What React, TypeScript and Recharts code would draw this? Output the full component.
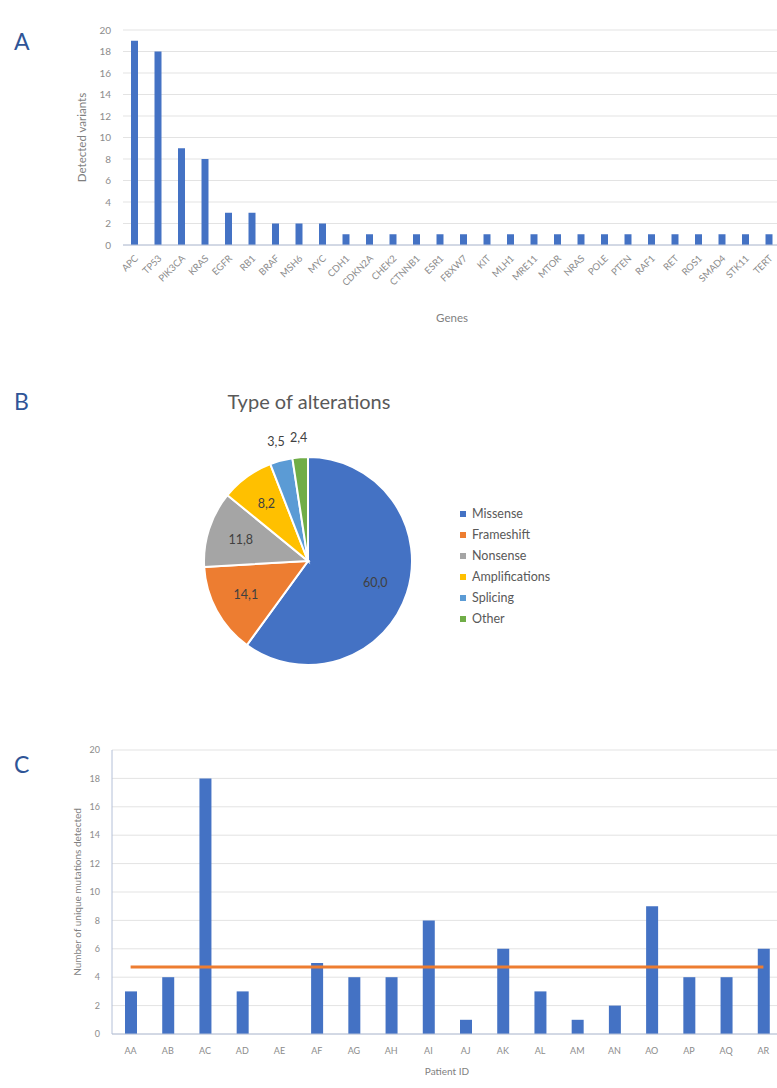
import React from "react";
import {
  BarChart,
  Bar,
  XAxis,
  YAxis,
  CartesianGrid,
  PieChart,
  Pie,
  Cell,
  Legend,
  ComposedChart,
  Line,
} from "recharts";

// Panel A — detected variants per gene
const genes = [
  "APC", "TP53", "PIK3CA", "KRAS", "EGFR", "RB1", "BRAF", "MSH6", "MYC",
  "CDH1", "CDKN2A", "CHEK2", "CTNNB1", "ESR1", "FBXW7", "KIT", "MLH1",
  "MRE11", "MTOR", "NRAS", "POLE", "PTEN", "RAF1", "RET", "ROS1", "SMAD4",
  "STK11", "TERT",
];
const variantCounts = [
  19, 18, 9, 8, 3, 3, 2, 2, 2,
  1, 1, 1, 1, 1, 1, 1, 1,
  1, 1, 1, 1, 1, 1, 1, 1, 1,
  1, 1,
];
const geneTicks = [0, 2, 4, 6, 8, 10, 12, 14, 16, 18, 20];

// Panel B — type of alterations (%)
const alterationTypes = ["Missense", "Frameshift", "Nonsense", "Amplifications", "Splicing", "Other"];
const alterationPct = [60.0, 14.1, 11.8, 8.2, 3.5, 2.4];
const alterationColors = ["#4472C4", "#ED7D31", "#A5A5A5", "#FFC000", "#5B9BD5", "#70AD47"];

// Panel C — unique mutations per patient
const patients = ["AA", "AB", "AC", "AD", "AE", "AF", "AG", "AH", "AI", "AJ", "AK", "AL", "AM", "AN", "AO", "AP", "AQ", "AR"];
const mutationCounts = [3, 4, 18, 3, 0, 5, 4, 4, 8, 1, 6, 3, 1, 2, 9, 4, 4, 6];
const meanMutations = 4.72;
const patientTicks = [0, 2, 4, 6, 8, 10, 12, 14, 16, 18, 20];

const FONT = "Lato, 'Open Sans', sans-serif";
const BLUE = "#4472C4";
const GRID = "#E3E3E3";
const AXIS = "#B4C0D8";
const TICK = "#8C8C8C";

const geneData = genes.map((g, i) => ({ gene: g, count: variantCounts[i] }));
const pieData = alterationTypes.map((n, i) => ({ name: n, value: alterationPct[i] }));
const patientData = patients.map((p, i) => ({ id: p, count: mutationCounts[i], mean: meanMutations }));

const RADIAN = Math.PI / 180;

const RotatedTick = (props: any) => {
  const { x, y, payload } = props;
  return (
    <text
      x={x + 4}
      y={y + 6}
      textAnchor="end"
      fontSize={9.5}
      fill={TICK}
      fontFamily={FONT}
      transform={`rotate(-45, ${x + 4}, ${y + 6})`}
    >
      {payload.value}
    </text>
  );
};

const pieLabel = (props: any) => {
  const { cx, cy, midAngle, outerRadius, value } = props;
  const outside = value < 5;
  const r = outside ? outerRadius + 20 : outerRadius * 0.68;
  const x = cx + r * Math.cos(-midAngle * RADIAN);
  const y = cy + r * Math.sin(-midAngle * RADIAN);
  return (
    <text
      x={x}
      y={y}
      textAnchor="middle"
      dominantBaseline="central"
      fontSize={12.5}
      fill="#404040"
      fontFamily={FONT}
    >
      {value.toFixed(1).replace(".", ",")}
    </text>
  );
};

// legend kept in the original series order (recharts sorts by name otherwise)
const AlterationLegend = () => (
  <ul style={{ listStyle: "none", margin: 0, padding: 0 }}>
    {alterationTypes.map((name, i) => (
      <li key={name} style={{ height: 21, lineHeight: "21px", whiteSpace: "nowrap" }}>
        <span
          style={{
            display: "inline-block",
            width: 6,
            height: 6,
            background: alterationColors[i],
            marginRight: 6,
            verticalAlign: "middle",
          }}
        />
        <span style={{ color: "#595959", verticalAlign: "middle" }}>{name}</span>
      </li>
    ))}
  </ul>
);

const panelLetter = (letter: string, top: number) => (
  <div
    style={{
      position: "absolute",
      left: 14,
      top,
      fontSize: 23,
      color: "#2F5597",
      fontFamily: FONT,
      lineHeight: "24px",
    }}
  >
    {letter}
  </div>
);

export default function App() {
  return (
    <div
      style={{
        position: "absolute",
        left: 0,
        top: 0,
        width: 777,
        height: 1088,
        overflow: "hidden",
        background: "#fff",
        fontFamily: FONT,
      }}
    >
      {panelLetter("A", 29)}
      {panelLetter("B", 389)}
      {panelLetter("C", 752)}

      {/* Panel A */}
      <div style={{ position: "absolute", left: 0, top: 0 }}>
        <BarChart
          width={781}
          height={330}
          data={geneData}
          margin={{ top: 30, right: 0, bottom: 0, left: 0 }}
          barCategoryGap={0}
        >
          <CartesianGrid vertical={false} stroke={GRID} />
          <XAxis
            dataKey="gene"
            interval={0}
            height={85}
            tickLine={false}
            axisLine={{ stroke: AXIS }}
            tick={<RotatedTick />}
            label={{ value: "Genes", position: "insideBottom", offset: 8, fill: "#7F7F7F", fontSize: 11.5 }}
          />
          <YAxis
            width={123}
            domain={[0, 20]}
            ticks={geneTicks}
            interval={0}
            tickLine={false}
            axisLine={false}
            tickMargin={6}
            tick={{ fontSize: 10, fill: TICK }}
            label={{
              value: "Detected variants",
              angle: -90,
              position: "insideLeft",
              offset: 82,
              fill: "#7F7F7F",
              fontSize: 11.5,
              style: { textAnchor: "middle" },
            }}
          />
          <Bar dataKey="count" fill={BLUE} barSize={7} isAnimationActive={false} />
        </BarChart>
      </div>

      {/* Panel B */}
      <div
        style={{
          position: "absolute",
          left: 209,
          top: 388,
          width: 200,
          textAlign: "center",
          fontSize: 20,
          color: "#595959",
          fontFamily: FONT,
          lineHeight: "26px",
        }}
      >
        Type of alterations
      </div>
      <div style={{ position: "absolute", left: 0, top: 420 }}>
        <PieChart width={777} height={280} margin={{ top: 0, right: 0, bottom: 0, left: 0 }}>
          <Pie
            data={pieData}
            dataKey="value"
            nameKey="name"
            cx={308}
            cy={141}
            outerRadius={104}
            startAngle={90}
            endAngle={-270}
            stroke="#fff"
            strokeWidth={2}
            labelLine={false}
            label={pieLabel}
            isAnimationActive={false}
          >
            {pieData.map((d, i) => (
              <Cell key={d.name} fill={alterationColors[i]} />
            ))}
          </Pie>
          <Legend
            layout="vertical"
            align="right"
            verticalAlign="middle"
            content={<AlterationLegend />}
            wrapperStyle={{
              left: 460,
              top: 82,
              right: "auto",
              width: 160,
              fontSize: 12.5,
              fontFamily: FONT,
            }}
          />
        </PieChart>
      </div>

      {/* Panel C */}
      <div style={{ position: "absolute", left: 0, top: 730 }}>
        <ComposedChart
          width={782}
          height={358}
          data={patientData}
          margin={{ top: 20, right: 0, bottom: 0, left: 0 }}
          barCategoryGap={0}
        >
          <CartesianGrid vertical={false} stroke={GRID} />
          <XAxis
            dataKey="id"
            interval={0}
            height={54}
            tickLine={false}
            axisLine={{ stroke: AXIS }}
            tickMargin={8}
            tick={{ fontSize: 9, fill: TICK }}
            label={{ value: "Patient ID", position: "insideBottom", offset: 13, fill: "#7F7F7F", fontSize: 10 }}
          />
          <YAxis
            width={112}
            domain={[0, 20]}
            ticks={patientTicks}
            interval={0}
            tickLine={false}
            axisLine={{ stroke: AXIS }}
            tickMargin={6}
            tick={{ fontSize: 9, fill: TICK }}
            label={{
              value: "Number of unique mutations detected",
              angle: -90,
              position: "insideLeft",
              offset: 77,
              fill: "#7F7F7F",
              fontSize: 10,
              style: { textAnchor: "middle" },
            }}
          />
          <Bar dataKey="count" fill={BLUE} barSize={12} isAnimationActive={false} />
          <Line
            dataKey="mean"
            type="linear"
            stroke="#ED7D31"
            strokeWidth={3}
            dot={false}
            activeDot={false}
            isAnimationActive={false}
          />
        </ComposedChart>
      </div>
    </div>
  );
}
